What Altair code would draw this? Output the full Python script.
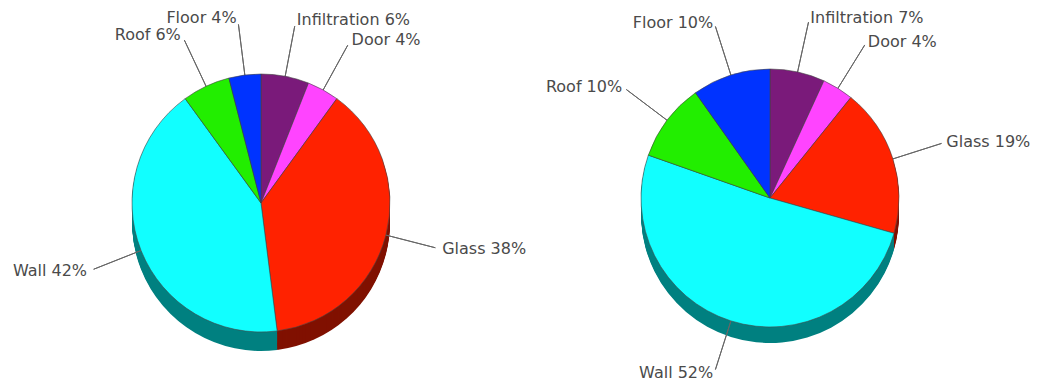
import math
import altair as alt
import pandas as pd

CATEGORIES = ["Infiltration", "Door", "Glass", "Wall", "Roof", "Floor"]
LEFT_VALUES = [6, 4, 38, 42, 6, 4]
RIGHT_VALUES = [7, 4, 19, 52, 10, 10]
FILLS = ["#7A1A7A", "#FF44FF", "#FF2200", "#11FFFF", "#22EE00", "#0033FF"]
SHADES = ["#3D0D3D", "#802280", "#801100", "#008080", "#117700", "#001A80"]

FONT = "DejaVu Sans"
TEXT_COLOR = "#4a4a4a"


def build_table(values):
    total = float(sum(values))
    rows = []
    cum = 0.0
    for cat, v, f, s in zip(CATEGORIES, values, FILLS, SHADES):
        start = cum / total * 2 * math.pi
        cum += v
        end = cum / total * 2 * math.pi
        mid = (start + end) / 2
        rows.append({
            "category": cat,
            "value": v,
            "label": f"{cat} {v}%",
            "start": start,
            "end": end,
            "mid": mid,
            "side": "right" if math.sin(mid) >= 0 else "left",
            "fill": f,
            "shade": s,
        })
    return pd.DataFrame(rows)


def pie(values, cx, cy, r, depth, r_lead, r_text):
    df = build_table(values)
    base = alt.Chart(df)
    layers = []
    # 3D side: stacked offset discs, darker colours
    for k in range(depth, 0, -1):
        layers.append(
            base.mark_arc(outerRadius=r, strokeWidth=0).encode(
                theta=alt.Theta("start:Q", scale=None),
                theta2="end:Q",
                fill=alt.Fill("shade:N", scale=None),
                x=alt.value(cx),
                y=alt.value(cy + k),
            )
        )
    # leader lines (zero-width radial arcs, stroked)
    layers.append(
        base.mark_arc(innerRadius=r - 2, outerRadius=r_lead, stroke="#666666",
                      strokeWidth=1, fillOpacity=0).encode(
            theta=alt.Theta("mid:Q", scale=None),
            theta2="mid:Q",
            x=alt.value(cx),
            y=alt.value(cy),
        )
    )
    # top face
    layers.append(
        base.mark_arc(outerRadius=r, stroke="#444444", strokeWidth=0.6).encode(
            theta=alt.Theta("start:Q", scale=None),
            theta2="end:Q",
            fill=alt.Fill("fill:N", scale=None),
            x=alt.value(cx),
            y=alt.value(cy),
            tooltip=["category:N", "value:Q"],
        )
    )
    # labels
    for side, align, dx in (("right", "left", 1), ("left", "right", -1)):
        layers.append(
            base.transform_filter(alt.datum.side == side).mark_text(
                align=align, baseline="middle", dx=dx, font=FONT,
                fontSize=16, color=TEXT_COLOR, radius=r_text,
            ).encode(
                theta=alt.Theta("mid:Q", scale=None),
                text="label:N",
                x=alt.value(cx),
                y=alt.value(cy),
            )
        )
    return layers


MARGIN = 8
layers = []
layers += pie(LEFT_VALUES, 261 - MARGIN, 203 - MARGIN, 129, 19, 180, 186)
layers += pie(RIGHT_VALUES, 770 - MARGIN, 198 - MARGIN, 129, 16, 180, 184)

chart = alt.layer(*layers).properties(
    width=1031, height=373, padding=0, autosize=alt.AutoSizeParams(type="none")
).configure_view(stroke=None)

chart.save("out.html", embed_options={"renderer": "svg", "actions": False})
